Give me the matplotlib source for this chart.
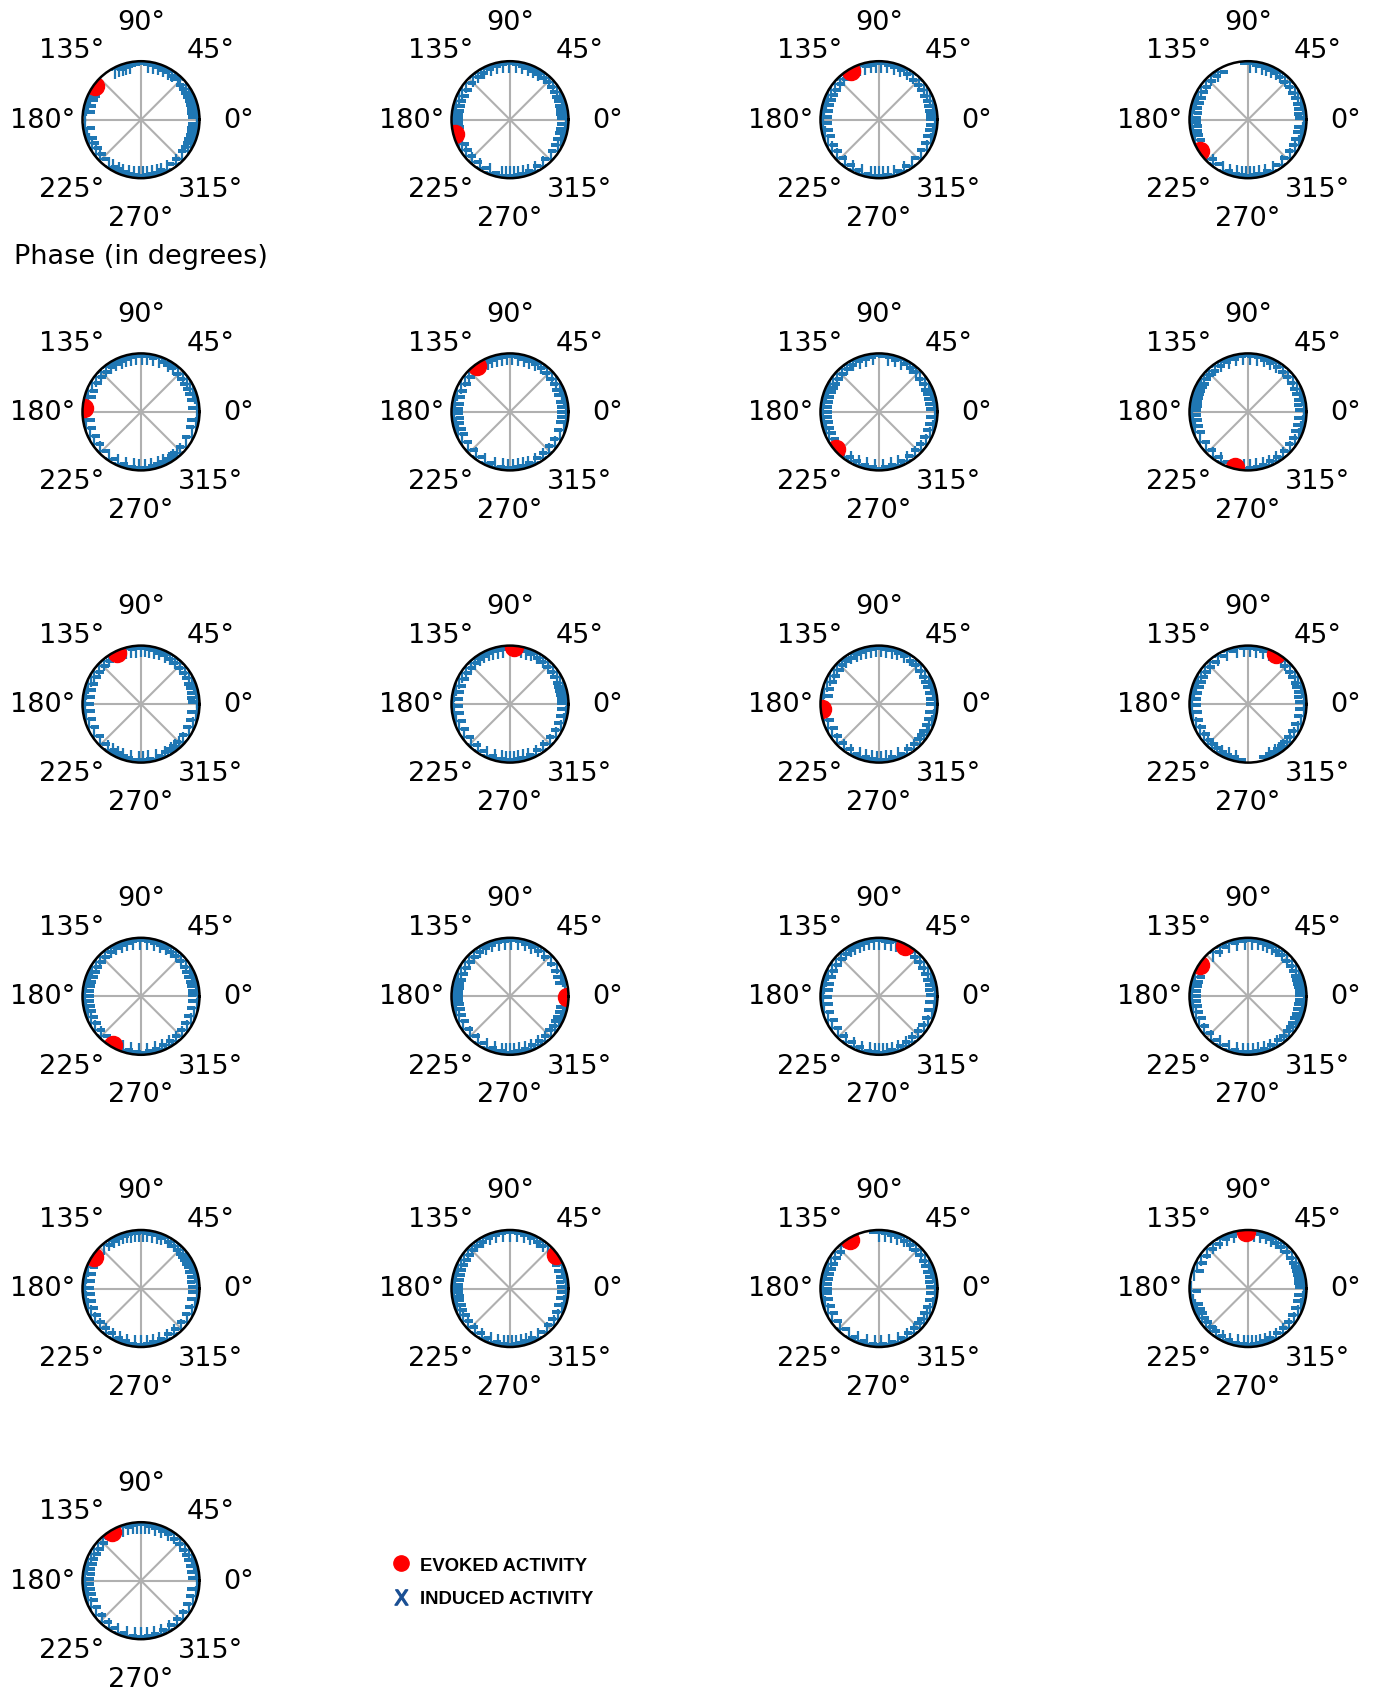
import numpy as np
import matplotlib
matplotlib.use('Agg')
from matplotlib import pyplot as plt
from matplotlib.lines import Line2D

# phase of the evoked response for each channel (degrees)
evoked = [144, 195, 120, 213, 176, 126, 221, 257, 115, 86, 185,
          61, 240, 359, 63, 147, 146, 36, 121, 92, 121]

# phases of the induced activity, one list per channel (degrees)
ind1 = [3, 7, 11, 15, 19, 24, 28, 33, 38, 46, 50, 57, 62, 67, 73, 78, 83, 101, 105, 109, 113, 117,
        150, 155, 160, 166, 172, 188, 199, 204, 210, 217, 224, 236, 241, 247, 252, 258, 263, 268,
        272, 276, 281, 286, 291, 297, 308, 316, 326, 331, 336, 340, 344, 348, 352, 356]
ind2 = [2, 6, 10, 14, 19, 24, 29, 35, 41, 47, 53, 60, 66, 72, 78, 84, 91, 97, 103, 110, 117, 124,
        131, 140, 148, 155, 161, 166, 171, 175, 179, 183, 187, 205, 212, 220, 228, 238, 249, 262,
        266, 270, 274, 278, 283, 288, 296, 305, 316, 327, 334, 340, 346, 351, 356]
ind3 = [1, 5, 9, 14, 19, 25, 32, 38, 45, 53, 61, 68, 75, 82, 88, 93, 98, 104, 110, 128, 134, 141,
        148, 154, 160, 165, 171, 177, 183, 190, 197, 206, 214, 223, 233, 243, 253, 262, 266, 270,
        274, 279, 285, 296, 306, 318, 328, 336, 343, 350, 355]
ind4 = [2, 6, 11, 16, 22, 28, 35, 42, 49, 56, 61, 66, 71, 76, 82, 88, 122, 130, 137, 145, 151, 157,
        163, 168, 173, 178, 182, 186, 191, 196, 201, 224, 232, 244, 252, 259, 264, 268, 272, 276,
        281, 287, 296, 307, 318, 326, 333, 340, 347, 353]
ind5 = [4, 12, 18, 24, 30, 36, 42, 50, 56, 62, 72, 78, 84, 89, 95, 100, 105, 110, 116, 122, 128,
        135, 142, 149, 158, 165, 188, 196, 205, 214, 224, 236, 246, 255, 263, 268, 274, 280, 287,
        293, 299, 304, 309, 314, 322, 334, 345, 352]
ind6 = [0, 5, 10, 17, 23, 29, 36, 43, 50, 57, 64, 70, 76, 82, 88, 93, 98, 103, 108, 113, 118, 136,
        142, 150, 158, 165, 172, 177, 181, 186, 191, 197, 203, 212, 222, 233, 244, 255, 263, 268,
        273, 278, 283, 289, 296, 305, 314, 323, 332, 341, 350, 355]
ind7 = [3, 8, 13, 18, 23, 29, 36, 44, 50, 57, 67, 74, 81, 96, 103, 110, 117, 124, 131, 138, 144,
        150, 155, 160, 165, 170, 175, 180, 185, 190, 196, 202, 209, 232, 240, 249, 258, 266, 274,
        282, 290, 300, 309, 318, 326, 334, 341, 348, 355]
ind8 = [2, 7, 12, 18, 24, 31, 38, 45, 52, 60, 67, 74, 81, 88, 95, 102, 110, 118, 126, 134, 140,
        145, 150, 154, 158, 162, 166, 170, 174, 178, 183, 188, 194, 201, 212, 222, 232, 242, 266,
        272, 278, 285, 292, 300, 308, 317, 325, 333, 340, 347, 354]
ind9 = [2, 6, 11, 16, 21, 27, 33, 40, 47, 53, 59, 65, 71, 77, 82, 86, 90, 95, 100, 105, 124, 131,
        138, 145, 152, 159, 166, 173, 180, 187, 195, 204, 214, 224, 234, 240, 246, 252, 260, 268,
        272, 277, 285, 295, 302, 307, 312, 318, 327, 336, 344, 352]
ind10 = [1, 5, 9, 13, 17, 22, 28, 34, 41, 48, 55, 62, 68, 74, 79, 97, 102, 107, 112, 117, 122, 128,
         134, 140, 147, 154, 161, 168, 175, 182, 189, 197, 206, 216, 226, 236, 246, 255, 262, 266,
         270, 274, 278, 283, 289, 297, 306, 315, 324, 333, 341, 348, 355]
ind11 = [0, 5, 11, 17, 23, 29, 36, 43, 50, 57, 64, 71, 77, 83, 88, 93, 98, 103, 108, 113, 119, 125,
         131, 137, 143, 150, 157, 165, 172, 196, 205, 214, 223, 232, 241, 250, 257, 263, 268, 272,
         277, 282, 290, 299, 308, 316, 322, 327, 332, 338, 345, 352]
ind12 = [2, 7, 12, 17, 22, 28, 35, 42, 49, 54, 68, 75, 82, 88, 94, 101, 112, 122, 132, 139, 145,
         151, 157, 163, 169, 175, 181, 188, 196, 204, 212, 219, 225, 231, 237, 243, 250, 258, 292,
         298, 303, 308, 313, 318, 324, 332, 340, 348, 355]
ind13 = [1, 5, 10, 15, 20, 25, 31, 38, 45, 52, 58, 64, 70, 77, 84, 91, 98, 104, 110, 116, 122, 129,
         136, 143, 149, 155, 160, 165, 170, 175, 180, 185, 190, 195, 201, 208, 216, 225, 252, 260,
         268, 276, 284, 292, 300, 308, 316, 324, 332, 340, 348, 355]
ind14 = [14, 20, 27, 35, 44, 53, 61, 68, 75, 82, 89, 95, 101, 108, 115, 122, 129, 136, 143, 150,
         157, 163, 168, 172, 176, 180, 184, 188, 193, 199, 206, 215, 225, 236, 246, 255, 262, 266,
         270, 274, 279, 285, 292, 300, 308, 316, 323, 329, 334, 339, 344, 349]
ind15 = [1, 6, 11, 17, 23, 30, 37, 44, 51, 73, 78, 84, 90, 95, 100, 105, 110, 115, 120, 126, 132,
         139, 146, 153, 160, 167, 174, 181, 188, 196, 205, 214, 224, 234, 244, 253, 261, 266, 270,
         274, 278, 283, 290, 298, 306, 314, 322, 330, 338, 346, 354]
ind16 = [1, 5, 9, 13, 17, 21, 26, 32, 39, 46, 53, 60, 65, 70, 75, 80, 86, 93, 101, 110, 119, 128,
         160, 165, 170, 175, 180, 185, 190, 196, 203, 211, 220, 230, 240, 250, 259, 265, 270, 275,
         280, 286, 293, 301, 309, 316, 322, 327, 332, 337, 342, 347, 352, 356]
ind17 = [2, 7, 12, 17, 22, 26, 30, 34, 38, 43, 49, 55, 62, 69, 74, 79, 84, 88, 92, 96, 100, 104,
         108, 113, 118, 124, 130, 158, 165, 172, 179, 186, 193, 200, 208, 216, 224, 232, 240, 248,
         256, 264, 270, 276, 282, 289, 297, 306, 315, 324, 333, 341, 349, 356]
ind18 = [2, 7, 12, 18, 24, 48, 55, 62, 69, 76, 83, 90, 97, 104, 111, 118, 125, 132, 138, 144, 150,
         156, 161, 166, 171, 176, 180, 184, 188, 192, 197, 202, 208, 215, 223, 232, 241, 250, 258,
         264, 268, 272, 276, 281, 286, 292, 300, 310, 320, 328, 336, 343, 350, 356]
ind19 = [2, 7, 12, 17, 23, 29, 36, 43, 50, 57, 64, 71, 78, 84, 90, 132, 140, 148, 155, 160, 165,
         170, 175, 180, 185, 191, 198, 206, 215, 226, 238, 248, 258, 266, 272, 280, 290, 300, 308,
         316, 322, 328, 334, 341, 348, 355]
ind20 = [2, 6, 10, 14, 18, 22, 27, 33, 40, 47, 54, 60, 66, 72, 78, 84, 104, 112, 120, 128, 136,
         145, 153, 162, 183, 196, 201, 206, 211, 216, 222, 228, 236, 244, 252, 260, 266, 270, 274,
         278, 282, 287, 293, 300, 308, 316, 324, 332, 340, 347, 353]
ind21 = [3, 9, 15, 21, 27, 33, 40, 47, 55, 62, 69, 76, 82, 86, 90, 94, 98, 103, 108, 132, 139, 146,
         152, 158, 163, 168, 173, 178, 183, 188, 194, 200, 208, 217, 226, 236, 246, 256, 264, 270,
         276, 283, 291, 300, 309, 318, 327, 336, 344, 352]

induced = [ind1, ind2, ind3, ind4, ind5, ind6, ind7, ind8, ind9, ind10, ind11,
           ind12, ind13, ind14, ind15, ind16, ind17, ind18, ind19, ind20, ind21]

W, H = 1378, 1690
fig = plt.figure(figsize=(W / 100, H / 100), dpi=100)

col_x = [141, 510, 879, 1248]
row_y0, row_dy = 120.7, 292.2
diam = 117

for k in range(len(evoked)):
    r, c = divmod(k, 4)
    cx, cy = col_x[c], row_y0 + r * row_dy
    ax = fig.add_axes([(cx - diam / 2) / W, 1 - (cy + diam / 2) / H, diam / W, diam / H],
                      projection='polar')
    th = np.deg2rad(induced[k])
    ax.plot(th, np.ones(len(th)), linestyle='none', marker='+', ms=14, mew=1.6,
            color='#1f77b4')
    ax.plot(np.deg2rad(evoked[k]), 1, linestyle='none', marker='o', ms=13, color='red')
    ax.set_ylim(0, 1.03)
    ax.set_yticks([])
    ax.set_xticks(np.deg2rad(np.arange(0, 360, 45)))
    ax.set_xticklabels([u'%d\u00b0' % d for d in range(0, 360, 45)])
    ax.tick_params(axis='x', labelsize=19.5, pad=18)
    ax.grid(True, color='#b0b0b0', linewidth=1.5)
    ax.spines['polar'].set_linewidth(1.8)
    if k == 0:
        ax.set_xlabel('Phase (in degrees)', fontsize=19.5, labelpad=9)

# legend
handles = [Line2D([], [], linestyle='none', marker='o', ms=11, color='red'),
           Line2D([], [], linestyle='none', marker='$\\mathsf{X}$', ms=11, color='#1a4f94')]
fig.legend(handles, ['EVOKED ACTIVITY', 'INDUCED ACTIVITY'], loc='center left',
           bbox_to_anchor=(392 / W, 1 - 1583 / H), frameon=False, borderpad=0,
           borderaxespad=0, handlelength=1, handletextpad=0.5, labelspacing=0.92,
           prop={'family': 'Liberation Sans', 'weight': 'bold', 'size': 13.3})

plt.savefig('out.png', dpi=100)
